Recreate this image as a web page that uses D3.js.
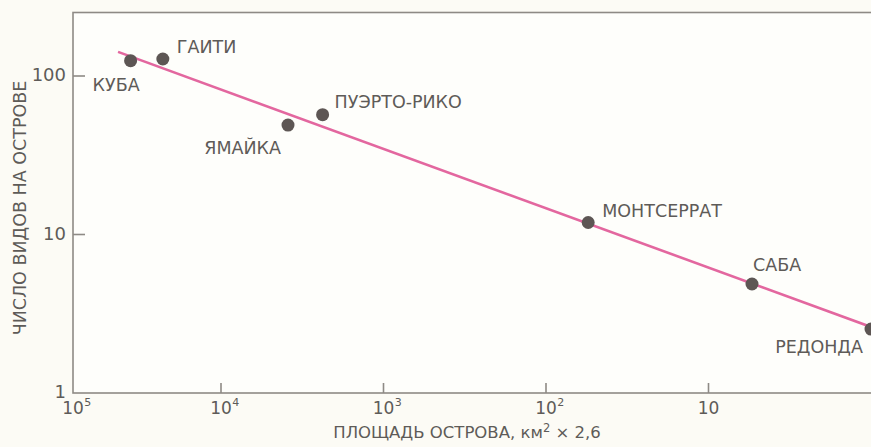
<!DOCTYPE html>
<html>
<head>
<meta charset="utf-8">
<script src="https://cdn.jsdelivr.net/npm/d3@7"></script>
<style>
  html, body { margin: 0; padding: 0; background: #fcfbf5; }
  svg { display: block; }
  text { font-family: "DejaVu Sans", sans-serif; fill: #5e5b58; }
</style>
</head>
<body>
<svg id="chart" width="871" height="447"></svg>
<script>
// Islands of the Antilles: area vs. number of species (log–log)
const islands = ["КУБА", "ГАИТИ", "ЯМАЙКА", "ПУЭРТО-РИКО", "МОНТСЕРРАТ", "САБА", "РЕДОНДА"];
const areas   = [36000, 22800, 3870, 2370, 55, 5.4, 1.0];
const species = [125, 128, 49, 57, 11.9, 4.87, 2.53];

// Fitted species–area line (end points)
const fitAreas   = [43000, 1];
const fitSpecies = [142, 2.61];

// Axis ticks
const xTickValues = [1e5, 1e4, 1e3, 1e2, 10];
const xTickBase   = ["10", "10", "10", "10", "10"];
const xTickPower  = ["5", "4", "3", "2", ""];
const yTickValues = [1, 10, 100];
const yTickLabels = ["1", "10", "100"];

const xTitle = "ПЛОЩАДЬ ОСТРОВА, км";
const xTitleSup = "2";
const xTitleTail = " × 2,6";
const yTitle = "ЧИСЛО ВИДОВ НА ОСТРОВЕ";

const svg = d3.select("#chart");
const plot = { left: 73, top: 12.5, bottom: 393, right: 905 };

const x = d3.scaleLog().domain([1e5, 1]).range([58.5, 871]);
const y = d3.scaleLog().domain([1, 100]).range([393, 76]);

const axisColor = "#8e8a85";

// frame
svg.append("rect")
  .attr("x", plot.left).attr("y", plot.top)
  .attr("width", plot.right - plot.left).attr("height", plot.bottom - plot.top)
  .attr("fill", "#fefefb").attr("stroke", axisColor).attr("stroke-width", 1.6);

// x ticks (inward) and labels; the first label marks the start of the axis
const xPos = v => Math.max(x(v), plot.left);
const xt = svg.append("g");
xTickValues.forEach((v, i) => {
  const px = xPos(v);
  if (px > plot.left) {
    xt.append("line").attr("x1", px).attr("x2", px)
      .attr("y1", plot.bottom).attr("y2", plot.bottom - 10)
      .attr("stroke", axisColor).attr("stroke-width", 1.6);
  }
  const base = xt.append("text").attr("x", px).attr("y", 414)
    .attr("text-anchor", "middle").attr("font-size", 17).text(xTickBase[i]);
  if (xTickPower[i]) {
    const w = base.node().getComputedTextLength();
    xt.append("text").attr("x", px + w / 2 + 0.5).attr("y", 406)
      .attr("font-size", 11).text(xTickPower[i]);
  }
});

// y ticks (inward) and labels
const yt = svg.append("g");
yTickValues.forEach((v, i) => {
  const py = y(v);
  if (py < plot.bottom) {
    yt.append("line").attr("x1", plot.left).attr("x2", plot.left + 12)
      .attr("y1", py).attr("y2", py)
      .attr("stroke", axisColor).attr("stroke-width", 1.6);
  }
  yt.append("text").attr("x", plot.left - 7).attr("y", py).attr("dy", "0.28em")
    .attr("text-anchor", "end").attr("font-size", 18).text(yTickLabels[i]);
});

// axis titles
const xt2 = svg.append("text").attr("x", 467).attr("y", 438)
  .attr("text-anchor", "middle").attr("font-size", 16.5);
xt2.append("tspan").text(xTitle);
xt2.append("tspan").attr("dy", -6).attr("font-size", 11.5).text(xTitleSup);
xt2.append("tspan").attr("dy", 6).text(xTitleTail);

svg.append("text")
  .attr("transform", "translate(26,208) rotate(-90)")
  .attr("text-anchor", "middle").attr("font-size", 17.5).text(yTitle);

// fitted line
const line = d3.line().x(d => x(d[0])).y(d => y(d[1]));
svg.append("path")
  .datum(fitAreas.map((a, i) => [a, fitSpecies[i]]))
  .attr("d", line)
  .attr("fill", "none").attr("stroke", "#e3679f").attr("stroke-width", 2.6);

// islands
const pts = islands.map((name, i) => ({ name, area: areas[i], species: species[i] }));
svg.append("g").selectAll("circle").data(pts).join("circle")
  .attr("cx", d => x(d.area)).attr("cy", d => y(d.species))
  .attr("r", 6.5).attr("fill", "#5d5654");

// label placement relative to each point
const labelPlace = {
  "КУБА":        { dx: -38, dy: 30, anchor: "start" },
  "ГАИТИ":       { dx: 14,  dy: -6, anchor: "start" },
  "ЯМАЙКА":      { dx: -7,  dy: 29, anchor: "end" },
  "ПУЭРТО-РИКО": { dx: 12,  dy: -7, anchor: "start" },
  "МОНТСЕРРАТ":  { dx: 14,  dy: -6, anchor: "start" },
  "САБА":        { dx: 1,   dy: -13, anchor: "start" },
  "РЕДОНДА":     { dx: -8,  dy: 24, anchor: "end" }
};
svg.append("g").selectAll("text").data(pts).join("text")
  .attr("x", d => x(d.area) + labelPlace[d.name].dx)
  .attr("y", d => y(d.species) + labelPlace[d.name].dy)
  .attr("text-anchor", d => labelPlace[d.name].anchor)
  .attr("font-size", 17.5)
  .text(d => d.name);
</script>
</body>
</html>
